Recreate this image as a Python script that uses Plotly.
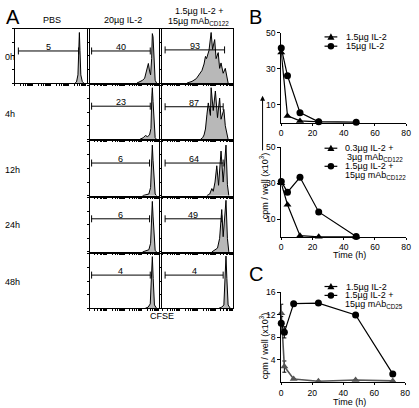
import math
import plotly.graph_objects as go

W, H = 419, 408
FONT = "Liberation Sans, Arial, Helvetica, sans-serif"

# ---------------- Panel A: CFSE histograms ----------------
row_labels = ["0h", "4h", "12h", "24h", "48h"]
col_labels = ["PBS", "20µg IL-2", "1.5µg IL-2 +", "15µg mAb<sub>CD122</sub>"]

# histogram outlines (x = CFSE position %, y = count % of panel)
pbs_0h_x = [84, 86, 88, 89.3, 90, 90.8, 92, 94, 96]
pbs_0h_y = [0, 2, 15, 70, 93, 60, 15, 3, 0]

il2_0h_x = [68, 72, 76, 79, 81.5, 83, 84.3, 86, 87.5, 89, 90, 91, 92.5, 94, 96]
il2_0h_y = [0, 2, 5, 9, 20, 30, 36, 22, 15, 45, 91, 85, 30, 5, 0]
il2_4h_x = [72, 77, 80, 83, 86, 88, 89.3, 90, 91, 92.5, 94, 96]
il2_4h_y = [0, 3, 7, 5, 8, 20, 80, 95, 70, 20, 3, 0]
il2_12h_x = [76, 81, 85, 87.5, 89.3, 90, 91, 92.5, 94, 96]
il2_12h_y = [0, 2, 3, 15, 75, 93, 65, 18, 3, 0]
il2_24h_x = [76, 81, 85, 87.5, 89.3, 90, 91, 92.5, 94, 96]
il2_24h_y = [0, 2, 4, 16, 78, 93, 66, 18, 3, 0]
il2_48h_x = [80, 84, 87, 88.8, 90, 91.2, 93, 96]
il2_48h_y = [0, 2, 8, 60, 95, 55, 6, 0]

mab_0h_x = [35, 42, 48, 51, 56, 59, 61, 62.5, 64, 66, 69, 71, 74, 76, 79, 81, 83, 86, 89, 91, 93]
mab_0h_y = [0, 3, 8, 14, 23, 35, 49, 45, 54, 60, 93, 62, 80, 45, 56, 27, 37, 18, 27, 10, 0]
mab_4h_x = [54, 57, 59, 61, 63, 65, 68, 69, 72, 75, 78, 81, 83, 87, 89, 91, 93]
mab_4h_y = [0, 3, 8, 19, 45, 67, 44, 95, 53, 89, 40, 76, 37, 55, 25, 8, 0]
mab_12h_x = [63, 67, 70, 72, 74.5, 77, 79.5, 83, 86, 90, 92, 94]
mab_12h_y = [0, 3, 13, 8, 25, 55, 19, 82, 25, 93, 20, 0]
mab_24h_x = [70, 74, 78, 81, 84, 86, 90, 92, 94]
mab_24h_y = [0, 3, 7, 25, 78, 28, 95, 25, 0]
mab_48h_x = [80, 84, 87, 88.8, 90, 91.2, 93, 96]
mab_48h_y = [0, 2, 6, 60, 96, 55, 6, 0]

# gates: start, end, level, percent label
pbs_gate = [5, 89, 59, "5"]
il2_gates = [[3, 87, 59, "40"], [3, 87, 61, "23"], [3, 86, 60, "6"],
             [3, 86, 61, "6"], [3, 87, 61, "4"]]
mab_gates = [[4, 88, 61, "93"], [4, 86, 60, "87"], [4, 86, 60, "64"],
             [4, 84, 61, "49"], [4, 86, 61, "4"]]

# ---------------- Panel B ----------------
b_time = [0, 4, 12, 24, 48]
b_top_low = [39, 3.7, 0.9, 0.4, 0.1]     # 1.5µg IL-2
b_top_high = [41.5, 26, 5.5, 0.4, 0.1]   # 15µg IL-2
b_bot_low = [30, 18, 0.8, 0.2, 0.1]      # 0.3µg IL-2 + 3µg mAbCD122
b_bot_high = [31, 25, 33.3, 14, 0.4]     # 1.5µg IL-2 + 15µg mAbCD122
b_yticks = [10, 30, 50]

# ---------------- Panel C ----------------
c_time = [0, 2, 8, 24, 48, 72]
c_il2 = [12.3, 2.8, 0.6, 0.2, 0.4, 0.25]
c_il2_err = [1.6, 1.0, 0, 0, 0, 0]
c_mab = [10.5, 8.9, 14.0, 14.1, 12.0, 1.5]
c_mab_err = [1.2, 1.0, 0, 0, 0, 0]
c_yticks = [4, 8, 12, 16]
time_ticks = [0, 20, 40, 60, 80]

# ---------------- helpers ----------------
fig = go.Figure()
layout = {}
count = [0]


def px(x):
    return x / W


def py(y):
    return 1 - y / H


def new_axes(x0, x1, y0, y1, xa, ya):
    count[0] += 1
    n = count[0]
    s = "" if n == 1 else str(n)
    xa = dict(xa, domain=[px(x0), px(x1)], anchor="y" + s)
    ya = dict(ya, domain=[py(y1), py(y0)], anchor="x" + s)
    layout["xaxis" + s] = xa
    layout["yaxis" + s] = ya
    return "x" + s, "y" + s


minor_x = []
for d in range(4):
    for k in range(1, 10):
        minor_x.append(d * 25 + 25 * math.log10(k))

hist_xa = dict(range=[0, 100], showline=True, mirror=True, linecolor="black", linewidth=1,
               ticks="outside", ticklen=2, tickwidth=1, tickcolor="black",
               tickvals=minor_x, showticklabels=False, showgrid=False, zeroline=False)
hist_ya = dict(range=[0, 100], showline=True, mirror=True, linecolor="black", linewidth=1,
               ticks="outside", ticklen=2, tickwidth=1, tickcolor="black",
               tickvals=[0, 25, 50, 75, 100], showticklabels=False, showgrid=False, zeroline=False)

annotations = []
shapes = []


def add_hist(col, row, hx, hy, gate):
    cx = [(13, 86), (89, 160), (163, 235)][col]
    ry = [(24, 79), (81, 136), (138, 193), (195, 250), (252, 307)][row]
    xr, yr = new_axes(cx[0], cx[1], ry[0], ry[1], hist_xa, hist_ya)
    fig.add_trace(go.Scatter(x=hx, y=hy, mode="lines", fill="tozeroy",
                             fillcolor="#b8b8b8", line=dict(color="black", width=1),
                             xaxis=xr, yaxis=yr, showlegend=False, hoverinfo="skip"))
    s, e, lvl, lab = gate
    fig.add_trace(go.Scatter(x=[s, e], y=[lvl, lvl], mode="lines+markers",
                             line=dict(color="black", width=1),
                             marker=dict(symbol="line-ns-open", size=5,
                                         line=dict(color="black", width=1)),
                             xaxis=xr, yaxis=yr, showlegend=False, hoverinfo="skip",
                             cliponaxis=False))
    annotations.append(dict(x=(s + e) / 2, y=lvl, xref=xr, yref=yr, text=lab,
                            showarrow=False, yanchor="bottom", yshift=-3,
                            font=dict(size=9, color="black", family=FONT)))


add_hist(0, 0, pbs_0h_x, pbs_0h_y, pbs_gate)
il2_hists = [(il2_0h_x, il2_0h_y), (il2_4h_x, il2_4h_y), (il2_12h_x, il2_12h_y),
             (il2_24h_x, il2_24h_y), (il2_48h_x, il2_48h_y)]
mab_hists = [(mab_0h_x, mab_0h_y), (mab_4h_x, mab_4h_y), (mab_12h_x, mab_12h_y),
             (mab_24h_x, mab_24h_y), (mab_48h_x, mab_48h_y)]
for r in range(5):
    add_hist(1, r, il2_hists[r][0], il2_hists[r][1], il2_gates[r])
    add_hist(2, r, mab_hists[r][0], mab_hists[r][1], mab_gates[r])

# ---------------- line plots ----------------
tick_font = dict(size=8.6, color="black", family=FONT)


def line_axes(x0, x1, y0, y1, yrange, yticks):
    xa = dict(range=[0, 80], tickvals=time_ticks, showline=True, linecolor="black",
              linewidth=1, ticks="outside", ticklen=2, tickcolor="black",
              showgrid=False, zeroline=False, tickfont=tick_font)
    ya = dict(range=yrange, tickvals=yticks, showline=True, linecolor="black",
              linewidth=1, ticks="outside", ticklen=3, tickcolor="black",
              showgrid=False, zeroline=False, tickfont=tick_font)
    return new_axes(x0, x1, y0, y1, xa, ya)


def add_series(xr, yr, xs, ys, symbol, size, color="black", err=None, lw=1.2):
    tr = dict(x=xs, y=ys, mode="lines+markers", xaxis=xr, yaxis=yr,
              line=dict(color=color, width=lw),
              marker=dict(symbol=symbol, size=size, color=color),
              showlegend=False, hoverinfo="skip", cliponaxis=False)
    if err is not None:
        tr["error_y"] = dict(type="data", array=err, visible=True, color="black",
                             thickness=1, width=2)
    fig.add_trace(go.Scatter(**tr))


xr, yr = line_axes(284, 411, 28, 119, [0, 50], b_yticks)
add_series(xr, yr, b_time, b_top_low, "triangle-up", 7)
add_series(xr, yr, b_time, b_top_high, "circle", 7)

xr, yr = line_axes(284, 411, 144, 235, [0, 50], b_yticks)
add_series(xr, yr, b_time, b_bot_low, "triangle-up", 7)
add_series(xr, yr, b_time, b_bot_high, "circle", 7)

xr, yr = line_axes(284, 410, 291, 382, [0, 16], c_yticks)
add_series(xr, yr, c_time, c_il2, "triangle-up", 7, color="#555555", err=c_il2_err, lw=1.6)
add_series(xr, yr, c_time, c_mab, "circle", 7, err=c_mab_err)


# ---------------- text ----------------
def text(x, y, t, size=9, xanchor="center", angle=0):
    annotations.append(dict(x=px(x), y=py(y), xref="paper", yref="paper", text=t,
                            showarrow=False, xanchor=xanchor, yanchor="middle",
                            textangle=angle,
                            font=dict(size=size, color="black", family=FONT)))


text(2, 12, "A", size=20, xanchor="left")
text(249, 12, "B", size=20, xanchor="left")
text(249, 272, "C", size=20, xanchor="left")

text(51, 15, col_labels[0])
text(123, 15, col_labels[1])
text(200, 6.5, col_labels[2])
text(200, 17, col_labels[3])

for i, (lab, y) in enumerate(zip(row_labels, [53, 110, 167, 223, 280])):
    text(1, y, lab, xanchor="left")

text(163, 315, "CFSE")
text(353, 253.5, "Time (h)")
text(353, 401.5, "Time (h)")
text(266, 183, "cpm / well (x10<sup>3</sup>)", angle=-90)
text(266, 345, "cpm / well (x10<sup>3</sup>)", angle=-90)

# arrow linking the shared B y-title
annotations.append(dict(x=px(265), y=py(92), xref="paper", yref="paper", ax=0, ay=56,
                        text="", showarrow=True, arrowhead=2, arrowsize=1,
                        arrowwidth=1, arrowcolor="black"))


# ---------------- legends ----------------
def legend_item(y, symbol):
    shapes.append(dict(type="line", xref="paper", yref="paper",
                       x0=px(328), x1=px(341), y0=py(y), y1=py(y),
                       line=dict(color="black", width=1.2)))
    cx = 334.5
    if symbol == "circle":
        shapes.append(dict(type="circle", xref="paper", yref="paper",
                           x0=px(cx - 3.3), x1=px(cx + 3.3), y0=py(y + 3.3), y1=py(y - 3.3),
                           fillcolor="black", line=dict(color="black", width=0)))
    else:
        path = "M {} {} L {} {} L {} {} Z".format(px(cx - 3.6), py(y + 2.8), px(cx + 3.6),
                                                  py(y + 2.8), px(cx), py(y - 3.6))
        shapes.append(dict(type="path", xref="paper", yref="paper", path=path,
                           fillcolor="black", line=dict(color="black", width=0)))


legend_item(32.3, "triangle")
text(347.5, 32.3, "1.5µg IL-2", xanchor="left")
legend_item(41.7, "circle")
text(347.5, 41.7, "15µg IL-2", xanchor="left")

legend_item(145, "triangle")
text(347, 145, "0.3µg IL-2 +", xanchor="left")
text(349, 154, "3µg mAb<sub>CD122</sub>", xanchor="left")
legend_item(163.3, "circle")
text(347, 163.3, "1.5µg IL-2 +", xanchor="left")
text(347, 173, "15µg mAb<sub>CD122</sub>", xanchor="left")

legend_item(285, "triangle")
text(347.5, 285, "1.5µg IL-2", xanchor="left")
legend_item(294, "circle")
text(347, 294, "1.5µg IL-2 +", xanchor="left")
text(347, 303.5, "15µg mAb<sub>CD25</sub>", xanchor="left")

fig.update_layout(
    width=W, height=H, margin=dict(l=0, r=0, t=0, b=0),
    paper_bgcolor="white", plot_bgcolor="white",
    showlegend=False, annotations=annotations, shapes=shapes,
    font=dict(family=FONT, size=9, color="black"),
    **layout,
)

fig.write_html("out.html", config={"displayModeBar": False, "staticPlot": True},
               post_script="document.body.style.margin='0';document.body.style.overflow='hidden';")
